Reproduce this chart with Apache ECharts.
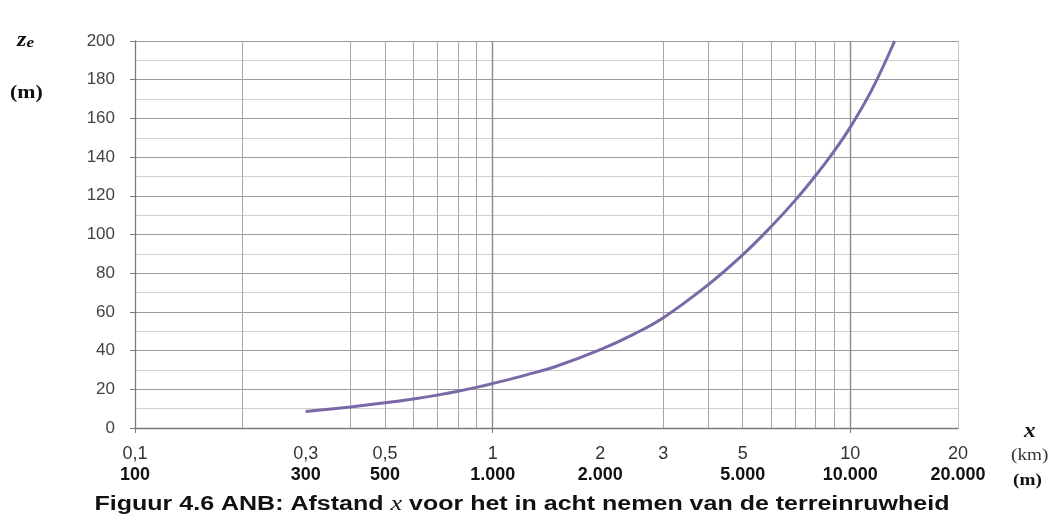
<!DOCTYPE html>
<html>
<head>
<meta charset="utf-8">
<script src="https://cdn.jsdelivr.net/npm/echarts@6/dist/echarts.min.js"></script>
<style>
html,body{margin:0;padding:0;background:#fff;}
#main{width:1056px;height:522px;}
</style>
</head>
<body>
<div id="main"></div>
<script>
// distance x (km) and effective height z_e (m)
var xKm = [0.3, 0.4, 0.5, 0.6, 0.7, 0.8, 0.9, 1, 1.25, 1.5, 2, 2.5, 3, 4, 5, 6, 7, 8, 9, 10, 11.5, 13.3];
var zE  = [8.5, 10.9, 13.0, 15.0, 17.0, 19.0, 21.0, 23.0, 27.6, 31.8, 40.5, 48.8, 57, 74, 89.5, 104, 117.5, 130.5, 143, 155.5, 175, 200];

// tick labels: km row and m row
var tickKm = [0.1, 0.3, 0.5, 1, 2, 3, 5, 10, 20];
var tickKmText = ['0,1', '0,3', '0,5', '1', '2', '3', '5', '10', '20'];
var tickMText  = ['100', '300', '500', '1.000', '2.000', '', '5.000', '10.000', '20.000'];

// vertical grid lines drawn in the original
var majorGridX = [1, 10];
var minorGridX = [0.2, 0.4, 0.5, 0.6, 0.7, 0.8, 0.9, 3, 4, 5, 6, 7, 8, 9];
var borderGridX = [20];
var axisTickX = [0.1, 1, 10];

var chart = echarts.init(document.getElementById('main'));

var seriesData = xKm.map(function (x, i) { return [x, zE[i]]; });
var vLines = [];
majorGridX.forEach(function (v) { vLines.push({ xAxis: v, lineStyle: { color: '#8a8a8a', width: 1.4, type: 'solid' } }); });
minorGridX.forEach(function (v) { vLines.push({ xAxis: v, lineStyle: { color: '#a6a6a6', width: 1, type: 'solid' } }); });
borderGridX.forEach(function (v) { vLines.push({ xAxis: v, lineStyle: { color: '#c4c4c4', width: 1, type: 'solid' } }); });

var serif = '"Times New Roman", "Liberation Serif", "DejaVu Serif", serif';
var sans = 'Arial, "Liberation Sans", Helvetica, sans-serif';

chart.setOption({
  animation: false,
  backgroundColor: '#ffffff',
  grid: { left: 135, right: 98, top: 41, bottom: 94, containLabel: false },
  xAxis: {
    type: 'log',
    logBase: 10,
    min: 0.1,
    max: 20,
    axisLine: { show: true, lineStyle: { color: '#7a7a7a', width: 1.3 } },
    axisTick: { show: true, customValues: axisTickX, length: 5, lineStyle: { color: '#7a7a7a' } },
    splitLine: { show: false },
    axisLabel: {
      customValues: tickKm,
      margin: 16,
      formatter: function (v) {
        var idx = -1;
        for (var i = 0; i < tickKm.length; i++) { if (Math.abs(tickKm[i] - v) < 1e-6 * tickKm[i]) idx = i; }
        if (idx < 0) return '';
        return '{a|' + tickKmText[idx] + '}\n{b|' + (tickMText[idx] || ' ') + '}';
      },
      rich: {
        a: { fontFamily: sans, fontSize: 18, color: '#333', lineHeight: 21 },
        b: { fontFamily: sans, fontSize: 18, fontWeight: 'bold', color: '#111', lineHeight: 21 }
      }
    }
  },
  yAxis: {
    type: 'value',
    min: 0,
    max: 200,
    interval: 20,
    axisLine: { show: true, lineStyle: { color: '#7a7a7a', width: 1.3 } },
    axisTick: { show: true, length: 5, lineStyle: { color: '#7a7a7a' } },
    axisLabel: { fontFamily: sans, fontSize: 17, color: '#444', margin: 20 },
    splitLine: { show: true, lineStyle: { color: '#9a9a9a', width: 1.2 } },
    minorTick: { show: false, splitNumber: 2 },
    minorSplitLine: { show: true, lineStyle: { color: '#cfcfcf', width: 1 } }
  },
  series: [{
    type: 'line',
    data: seriesData,
    smooth: 0.4,
    showSymbol: false,
    symbol: 'none',
    lineStyle: { color: '#7a68a8', width: 3 },
    z: 5,
    markLine: {
      silent: true,
      symbol: ['none', 'none'],
      label: { show: false },
      animation: false,
      z: 1,
      data: vLines
    }
  }],
  graphic: [
    { type: 'text', x: 17, y: 41, scaleX: 1.15, style: { text: '{z|z}{e|e}', textVerticalAlign: 'middle', rich: {
        z: { fontFamily: serif, fontStyle: 'italic', fontWeight: 'bold', fontSize: 21, fill: '#111' },
        e: { fontFamily: serif, fontStyle: 'italic', fontWeight: 'bold', fontSize: 15, fill: '#111', padding: [5, 0, 0, 0] }
      } } },
    { type: 'text', x: 10, y: 93, scaleX: 1.15, style: { text: '(m)', textVerticalAlign: 'middle', fontFamily: serif, fontWeight: 'bold', fontSize: 19, fill: '#111' } },
    { type: 'text', x: 1024, y: 432, scaleX: 1.15, style: { text: 'x', textVerticalAlign: 'middle', fontFamily: serif, fontStyle: 'italic', fontWeight: 'bold', fontSize: 20, fill: '#111' } },
    { type: 'text', x: 1011, y: 456, scaleX: 1.2, style: { text: '(km)', textVerticalAlign: 'middle', fontFamily: serif, fontSize: 16, fill: '#333' } },
    { type: 'text', x: 1013, y: 481, scaleX: 1.2, style: { text: '(m)', textVerticalAlign: 'middle', fontFamily: serif, fontWeight: 'bold', fontSize: 16, fill: '#111' } },
    { type: 'text', x: 522, y: 504, scaleX: 1.25, style: {
        text: '{t|Figuur 4.6 ANB: Afstand }{x|x}{t| voor het in acht nemen van de terreinruwheid}',
        textAlign: 'center', textVerticalAlign: 'middle',
        rich: {
          t: { fontFamily: sans, fontWeight: 'bold', fontSize: 20, fill: '#111' },
          x: { fontFamily: serif, fontStyle: 'italic', fontSize: 21, fill: '#111' }
        } } }
  ]
});
</script>
</body>
</html>
